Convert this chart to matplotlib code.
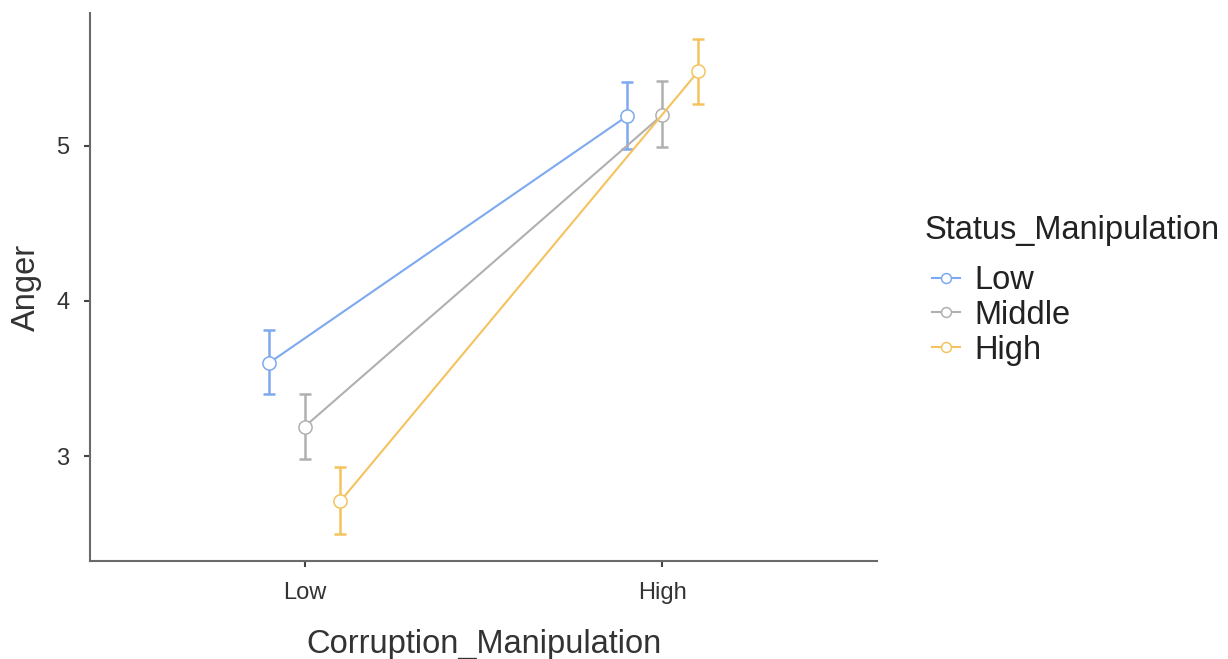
import numpy as np
import matplotlib.pyplot as plt

# group means and 95% CI bounds of Anger, by status (rows) and corruption (cols)
corruption = ['Low', 'High']
status = ['Low', 'Middle', 'High']
anger_mean = {
    'Low':    [3.60, 5.19],
    'Middle': [3.19, 5.20],
    'High':   [2.71, 5.48],
}
ci_lower = {
    'Low':    [3.40, 4.98],
    'Middle': [2.98, 4.99],
    'High':   [2.50, 5.27],
}
ci_upper = {
    'Low':    [3.81, 5.41],
    'Middle': [3.40, 5.42],
    'High':   [2.93, 5.69],
}
colors = {'Low': '#7DA9F0', 'Middle': '#B0B0B0', 'High': '#F5C35E'}

plt.rcParams['font.family'] = ['Liberation Sans', 'DejaVu Sans']

fig = plt.figure(figsize=(12.28, 6.59), dpi=100)
ax = fig.add_axes([0.0733, 0.149, 0.641, 0.831])

x = np.arange(1, len(corruption) + 1)
dodge = [-0.1, 0.0, 0.1]
for i, s in enumerate(status):
    xs = x + dodge[i]
    m = np.array(anger_mean[s])
    lo = m - np.array(ci_lower[s])
    hi = np.array(ci_upper[s]) - m
    ax.errorbar(xs, m, yerr=[lo, hi], fmt='none', ecolor=colors[s],
                elinewidth=1.8, capsize=4.2, capthick=1.8, zorder=2)
    ax.plot(xs, m, color=colors[s], lw=1.5, marker='o', markersize=9.5,
            markerfacecolor='white', markeredgecolor=colors[s],
            markeredgewidth=1.1, label=s, zorder=3)

ax.set_xlim(0.4, 2.6)
ax.set_ylim(2.325, 5.855)
ax.set_xticks(x)
ax.set_xticklabels(corruption)
ax.set_yticks([3, 4, 5])

for side in ['top', 'right']:
    ax.spines[side].set_visible(False)
for side in ['left', 'bottom']:
    ax.spines[side].set_color('#6a6a6a')
    ax.spines[side].set_linewidth(1.5)
ax.tick_params(axis='both', colors='#444444', labelcolor='#333333',
               labelsize=17, length=4, width=1.5, pad=11)

ax.set_xlabel('Corruption_Manipulation', fontsize=23.5, color='#333333', labelpad=18)
ax.set_ylabel('Anger', fontsize=23.5, color='#333333', labelpad=10)

# legend: title as separate text so the gap below it can be set freely
fig.text(0.753, 1 - 230 / 659, 'Status_Manipulation', fontsize=23.5,
         color='#222222', ha='left', va='center')
leg = fig.legend(loc='upper left', bbox_to_anchor=(0.759, 1 - 265 / 659),
                 frameon=False, fontsize=23.5, handlelength=0.85,
                 handletextpad=0.45, labelspacing=0.12, markerscale=0.75,
                 borderaxespad=0, borderpad=0)
for t in leg.get_texts():
    t.set_color('#222222')

fig.savefig('out.png', dpi=100)
